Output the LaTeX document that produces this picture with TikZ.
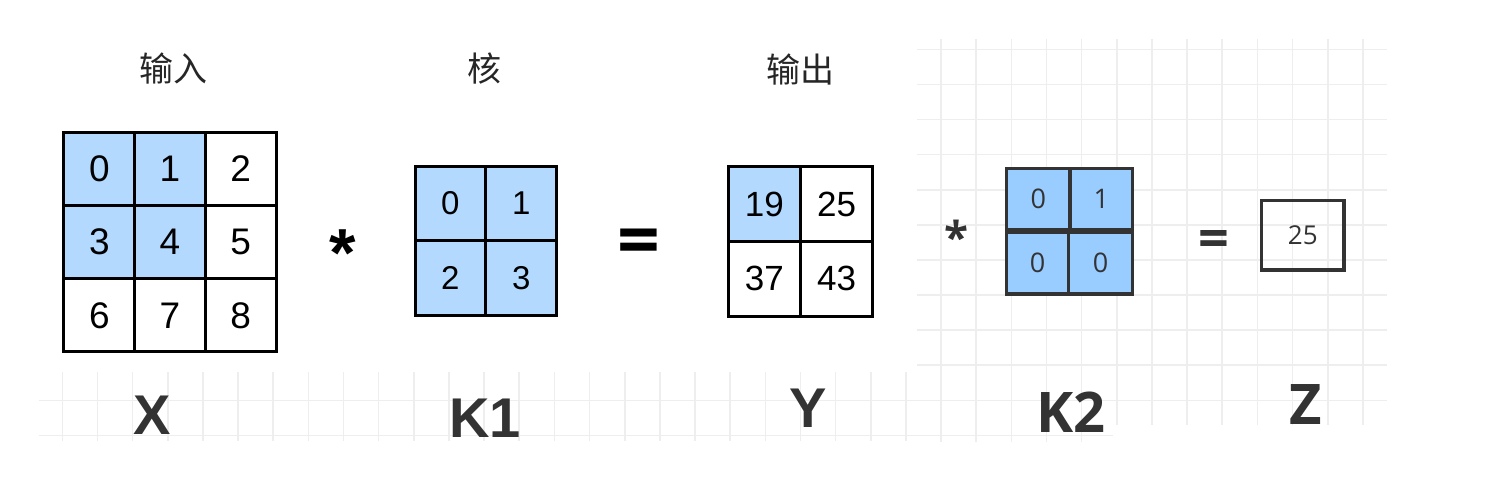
\documentclass[tikz,border=0pt]{standalone}
\usepackage{fontspec}
\setmainfont{Liberation Sans}
\newfontfamily\cjk{Noto Sans CJK SC}
\newfontfamily\osans{Open Sans}
\usetikzlibrary{positioning}

\definecolor{cellblue}{RGB}{179,217,255}
\definecolor{kblue}{RGB}{153,204,255}
\definecolor{ink}{RGB}{51,51,51}
\definecolor{gridgray}{RGB}{238,238,238}

\tikzset{
  gridline/.style={draw=gridgray, line width=0.8pt},
  xcell/.style={draw=black, line width=1.5pt, inner sep=0pt, minimum width=35.33pt, minimum height=36.67pt, font=\fontsize{18.5}{20}\selectfont},
  kcell/.style={draw=black, line width=1.5pt, inner sep=0pt, fill=cellblue, minimum width=35.4pt, minimum height=37.4pt, font=\fontsize{16.5}{18}\selectfont},
  ycell/.style={draw=black, line width=1.5pt, inner sep=0pt, minimum width=36.1pt, minimum height=37.3pt, font=\fontsize{17.5}{19}\selectfont},
  qcell/.style={draw=ink, line width=1.75pt, inner sep=0pt, fill=kblue, text=ink, minimum height=30.8pt, font=\osans\fontsize{13.5}{15}\selectfont},
  zbox/.style={draw=ink, line width=1.7pt, inner sep=0pt, minimum width=41.2pt, minimum height=34.7pt, text=ink, font=\osans\fontsize{13}{15}\selectfont},
  title/.style={inner sep=0pt, text=black!85, font=\cjk\fontsize{17}{20}\selectfont},
  label/.style={inner sep=0pt, text=ink, font=\bfseries\fontsize{28}{30}\selectfont},
  oplabel/.style={inner sep=0pt, font=\osans\bfseries\fontsize{#1}{#1}\selectfont},
}

\begin{document}
\begin{tikzpicture}[x=0.5pt, y=-0.5pt]
  \useasboundingbox (0,0) rectangle (1512,495);

  % faint paper grid
  \foreach \k in {0,...,24}
    \draw[gridline] ({62.3+35.15*\k},372) -- ({62.3+35.15*\k},441);
  \foreach \k in {25,...,37}
    \draw[gridline] ({62.3+35.15*\k},39) -- ({62.3+35.15*\k},442);
  \foreach \j in {0,...,9}
    \draw[gridline] (917,{49.3+35.1*\j}) -- (1387,{49.3+35.1*\j});
  \foreach \j in {10,11}
    \draw[gridline] (39,{49.3+35.1*\j}) -- (1387,{49.3+35.1*\j});
  \fill[white] (1113,425) rectangle (1392,447);

  % input X
  \node[title] (tin) at (173,69) {输入};
  \node[xcell, fill=cellblue] (x0) at (99.3,168.7) {0};
  \node[xcell, fill=cellblue] (x1) at (170,168.7) {1};
  \node[xcell] (x2) at (240.7,168.7) {2};
  \node[xcell, fill=cellblue] (x3) at (99.3,242) {3};
  \node[xcell, fill=cellblue] (x4) at (170,242) {4};
  \node[xcell] (x5) at (240.7,242) {5};
  \node[xcell] (x6) at (99.3,315.3) {6};
  \node[xcell] (x7) at (170,315.3) {7};
  \node[xcell] (x8) at (240.7,315.3) {8};
  \node[label] (lx) at (152.5,415) {X};

  \node[inner sep=0pt, font=\bfseries\fontsize{34}{34}\selectfont] (star1) at (343,253) {*};

  % kernel K1
  \node[title] (tker) at (484,69) {核};
  \node[kcell] (k0) at (450.4,203.4) {0};
  \node[kcell] (k1) at (521.3,203.4) {1};
  \node[kcell] (k2) at (450.4,278.3) {2};
  \node[kcell] (k3) at (521.3,278.3) {3};
  \node[label] (lk1) at (485,418) {K1};

  \node[oplabel=37.5] (eq1) at (639,247.5) {=};

  % output Y
  \node[title] (tout) at (800,70) {输出};
  \node[ycell, fill=cellblue] (y19) at (764.4,204) {19};
  \node[ycell] (y25) at (836.6,204) {25};
  \node[ycell] (y37) at (764.4,278.7) {37};
  \node[ycell] (y43) at (836.6,278.7) {43};
  \node[label] (ly) at (808,408) {Y};

  % second kernel K2 and result Z
  \node[oplabel=22, text=ink] (star2) at (956.7,237) {*};
  \node[qcell, minimum width=31.7pt] (q0) at (1038.3,199.2) {0};
  \node[qcell, minimum width=31.3pt] (q1) at (1101.3,199.2) {1};
  \node[qcell, minimum width=30.8pt] (q2) at (1037.5,263.3) {0};
  \node[qcell, minimum width=32.2pt] (q3) at (1100.5,263.3) {0};
  \node[label, font=\osans\bfseries\fontsize{28}{30}\selectfont] (lk2) at (1071,412) {K2};

  \node[oplabel=27, text=ink] (eq2) at (1213.5,244) {=};
  \node[zbox] (z) at (1302.8,235.3) {25};
  \node[label, font=\osans\bfseries\fontsize{28}{30}\selectfont] (lz) at (1306,404) {Z};
\end{tikzpicture}
\end{document}
